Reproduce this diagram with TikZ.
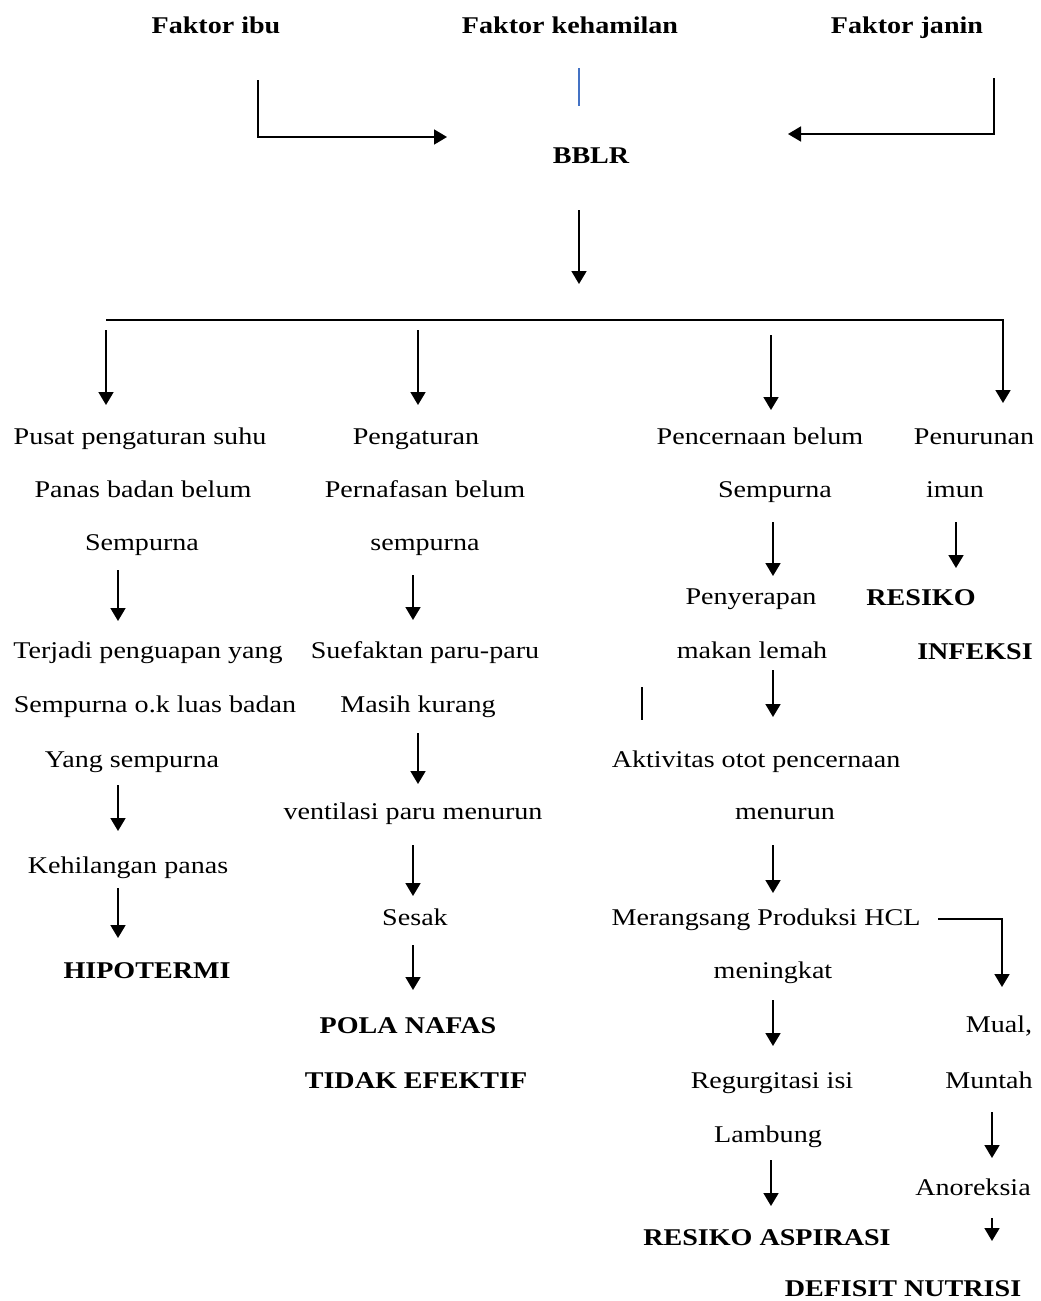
\documentclass[tikz,border=0pt]{standalone}
\usepackage{fontspec}
\setmainfont{Liberation Serif}[FakeStretch=1.17]
\usetikzlibrary{arrows.meta}
\definecolor{lineblue}{RGB}{68,114,196}
\tikzset{
  txt/.style={font=\fontsize{24}{28}\selectfont, anchor=base, inner sep=0pt},
  bld/.style={font=\fontsize{24}{28}\selectfont\bfseries, anchor=base, inner sep=0pt},
  arr/.style={-{Triangle[width=15pt,length=13pt]}, line width=1.8pt},
  ln/.style={line width=1.8pt},
}
\begin{document}
\begin{tikzpicture}[x=1pt,y=-1pt]
\useasboundingbox (0,0) rectangle (1041,1301);

% top row
\node[bld] (fibu) at (216,33) {Faktor ibu};
\node[bld] (fkeh) at (570,33) {Faktor kehamilan};
\node[bld] (fjan) at (907,33) {Faktor janin};
\node[bld] (bblr) at (591,163) {BBLR};

% column 1
\node[txt] (c1a) at (140,444) {Pusat pengaturan suhu};
\node[txt] (c1b) at (143,497) {Panas badan belum};
\node[txt] (c1c) at (142,550) {Sempurna};
\node[txt] (c1d) at (148,658) {Terjadi penguapan yang};
\node[txt] (c1e) at (155,712) {Sempurna o.k luas badan};
\node[txt] (c1f) at (132,767) {Yang sempurna};
\node[txt] (c1g) at (128,873) {Kehilangan panas};
\node[bld] (c1h) at (147,978) {HIPOTERMI};

% column 2
\node[txt] (c2a) at (416,444) {Pengaturan};
\node[txt] (c2b) at (425,497) {Pernafasan belum};
\node[txt] (c2c) at (425,550) {sempurna};
\node[txt] (c2d) at (425,658) {Suefaktan paru-paru};
\node[txt] (c2e) at (418,712) {Masih kurang};
\node[txt] (c2f) at (413,819) {ventilasi paru menurun};
\node[txt] (c2g) at (415,925) {Sesak};
\node[bld] (c2h) at (408,1033) {POLA NAFAS};
\node[bld] (c2i) at (416,1088) {TIDAK EFEKTIF};

% column 3
\node[txt] (c3a) at (760,444) {Pencernaan belum};
\node[txt] (c3b) at (775,497) {Sempurna};
\node[txt] (c3c) at (751,604) {Penyerapan};
\node[txt] (c3d) at (752,658) {makan lemah};
\node[txt] (c3e) at (756,767) {Aktivitas otot pencernaan};
\node[txt] (c3f) at (785,819) {menurun};
\node[txt] (c3g) at (766,925) {Merangsang Produksi HCL};
\node[txt] (c3h) at (773,978) {meningkat};
\node[txt] (c3i) at (772,1088) {Regurgitasi isi};
\node[txt] (c3j) at (768,1142) {Lambung};
\node[bld] (c3k) at (767,1245) {RESIKO ASPIRASI};

% column 4
\node[txt] (c4a) at (974,444) {Penurunan};
\node[txt] (c4b) at (955,497) {imun};
\node[bld] (c4c) at (921,605) {RESIKO};
\node[bld] (c4d) at (975,659) {INFEKSI};
\node[txt] (c4e) at (999,1032) {Mual,};
\node[txt] (c4f) at (989,1088) {Muntah};
\node[txt] (c4g) at (973,1195) {Anoreksia};
\node[bld] (c4h) at (903,1296) {DEFISIT NUTRISI};

% connector coordinates
\coordinate (ibuA) at (258,80);  \coordinate (ibuB) at (258,137); \coordinate (ibuC) at (447,137);
\coordinate (janA) at (994,78);  \coordinate (janB) at (994,134); \coordinate (janC) at (788,134);
\coordinate (blA) at (579,68);   \coordinate (blB) at (579,106);
\coordinate (bbA) at (579,210);  \coordinate (bbB) at (579,284);
\coordinate (busL) at (106,320); \coordinate (busR) at (1003,320); \coordinate (busE) at (1003,403);
\coordinate (d1A) at (106,330);  \coordinate (d1B) at (106,405);
\coordinate (d2A) at (418,330);  \coordinate (d2B) at (418,405);
\coordinate (d3A) at (771,335);  \coordinate (d3B) at (771,410);
% column 1 arrows
\coordinate (k1A) at (118,570);  \coordinate (k1B) at (118,621);
\coordinate (k2A) at (118,785);  \coordinate (k2B) at (118,831);
\coordinate (k3A) at (118,888);  \coordinate (k3B) at (118,938);
% column 2 arrows
\coordinate (m1A) at (413,575);  \coordinate (m1B) at (413,620);
\coordinate (m2A) at (418,733);  \coordinate (m2B) at (418,784);
\coordinate (m3A) at (413,845);  \coordinate (m3B) at (413,896);
\coordinate (m4A) at (413,945);  \coordinate (m4B) at (413,990);
% column 3 arrows
\coordinate (n1A) at (773,522);  \coordinate (n1B) at (773,576);
\coordinate (n2A) at (773,670);  \coordinate (n2B) at (773,717);
\coordinate (tkA) at (642,687);  \coordinate (tkB) at (642,720);
\coordinate (n3A) at (773,845);  \coordinate (n3B) at (773,893);
\coordinate (n4A) at (773,1000); \coordinate (n4B) at (773,1046);
\coordinate (n5A) at (771,1160); \coordinate (n5B) at (771,1206);
% column 4 arrows
\coordinate (q1A) at (956,522);  \coordinate (q1B) at (956,568);
\coordinate (hcA) at (938,919);  \coordinate (hcB) at (1002,919); \coordinate (hcC) at (1002,987);
\coordinate (q2A) at (992,1112); \coordinate (q2B) at (992,1158);
\coordinate (q3A) at (992,1218); \coordinate (q3B) at (992,1241);

% connectors
\draw[arr] (ibuA) -- (ibuB) -- (ibuC);
\draw[arr] (janA) -- (janB) -- (janC);
\draw[lineblue, line width=1.3pt] (blA) -- (blB);
\draw[arr] (bbA) -- (bbB);
\draw[arr] (busL) -- (busR) -- (busE);
\draw[arr] (d1A) -- (d1B);
\draw[arr] (d2A) -- (d2B);
\draw[arr] (d3A) -- (d3B);
\draw[arr] (k1A) -- (k1B);
\draw[arr] (k2A) -- (k2B);
\draw[arr] (k3A) -- (k3B);
\draw[arr] (m1A) -- (m1B);
\draw[arr] (m2A) -- (m2B);
\draw[arr] (m3A) -- (m3B);
\draw[arr] (m4A) -- (m4B);
\draw[arr] (n1A) -- (n1B);
\draw[arr] (n2A) -- (n2B);
\draw[ln] (tkA) -- (tkB);
\draw[arr] (n3A) -- (n3B);
\draw[arr] (n4A) -- (n4B);
\draw[arr] (n5A) -- (n5B);
\draw[arr] (q1A) -- (q1B);
\draw[arr] (hcA) -- (hcB) -- (hcC);
\draw[arr] (q2A) -- (q2B);
\draw[arr] (q3A) -- (q3B);
\end{tikzpicture}
\end{document}
